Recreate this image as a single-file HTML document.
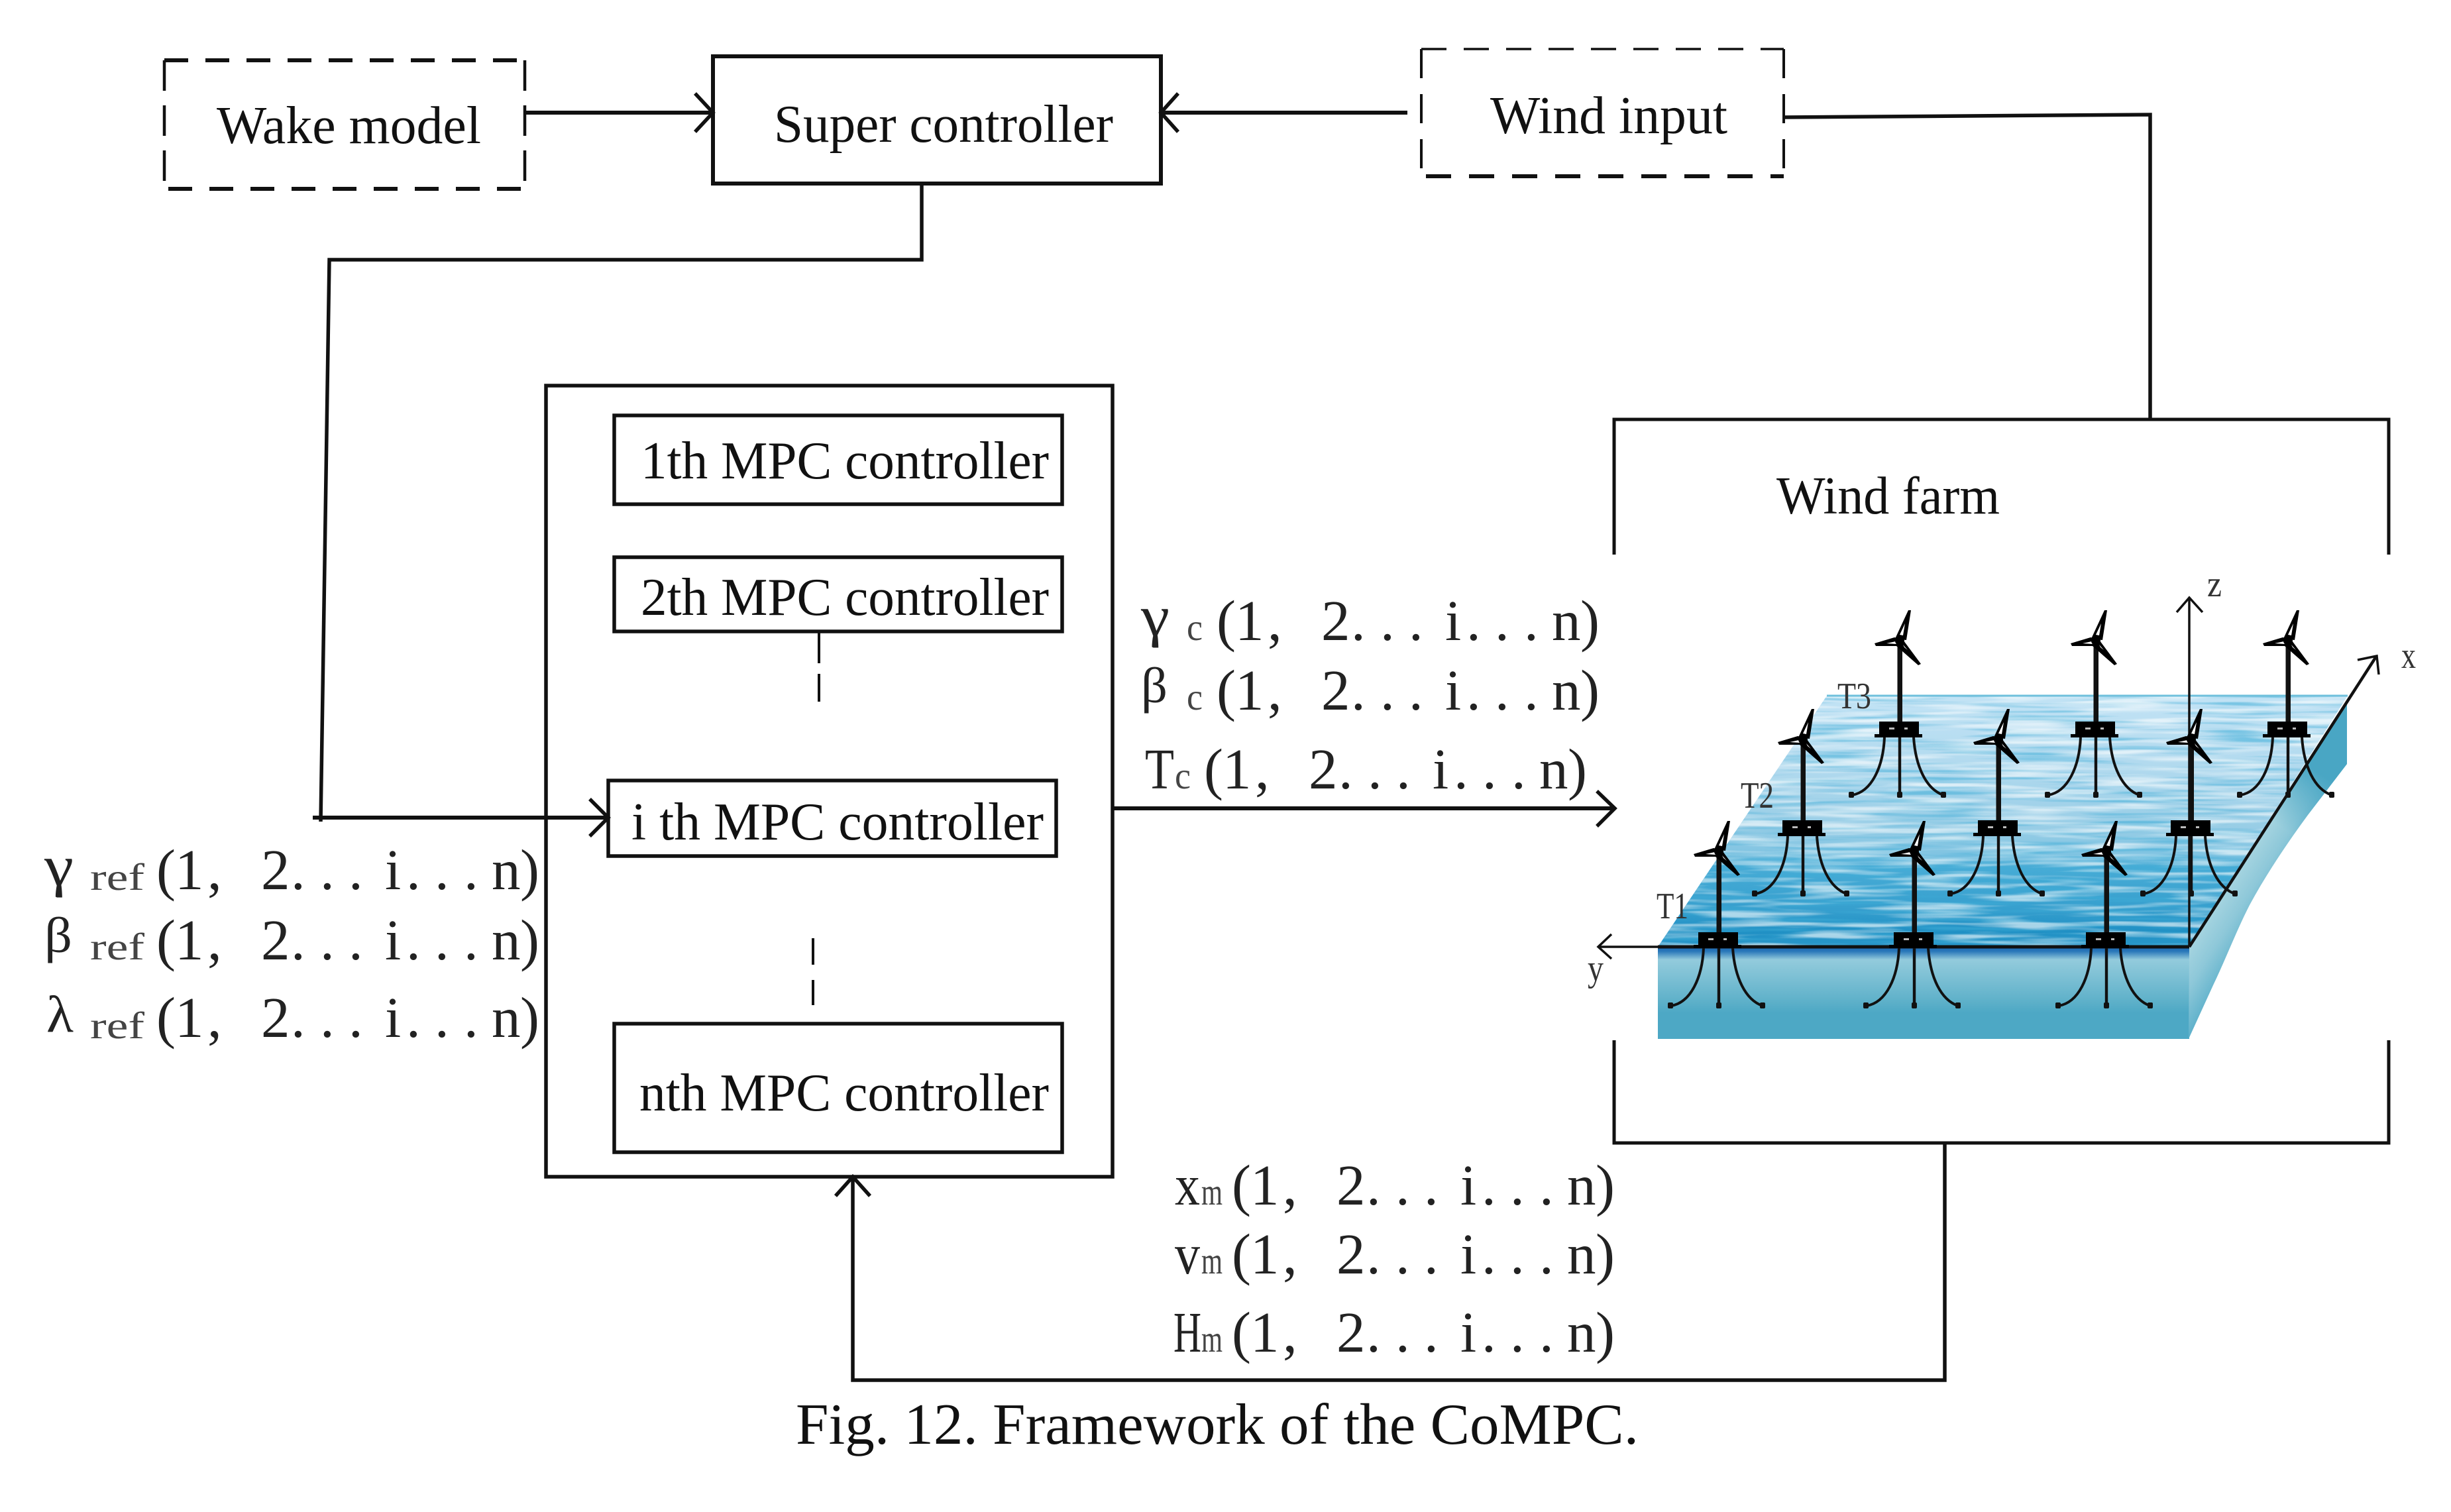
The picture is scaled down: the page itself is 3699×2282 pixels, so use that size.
<!DOCTYPE html>
<html><head><meta charset="utf-8"><title>Framework of the CoMPC</title>
<style>html,body{margin:0;padding:0;background:#fff}svg{display:block}
text{font-family:"Liberation Serif","Noto Serif CJK SC",serif;fill:#111}
.m{font-size:80px}.f{font-size:87px;fill:#222}.s{font-size:56px;fill:#333}.r{font-size:57px;fill:#444}</style></head>
<body>
<svg xmlns="http://www.w3.org/2000/svg" width="3699" height="2282" viewBox="0 0 3699 2282">
<defs>
<linearGradient id="w" x1="0" y1="0" x2="0" y2="1">
<stop offset="0" stop-color="#c2e3f5"/><stop offset=".3" stop-color="#b0d9ee"/><stop offset=".53" stop-color="#97cde6"/><stop offset=".63" stop-color="#80c4e2"/><stop offset=".68" stop-color="#48acd6"/><stop offset=".85" stop-color="#369fce"/><stop offset=".94" stop-color="#2090c4"/><stop offset="1" stop-color="#2a98ca"/>
</linearGradient>
<linearGradient id="fr" x1="0" y1="0" x2="0" y2="1">
<stop offset="0" stop-color="#1a66b0"/><stop offset=".05" stop-color="#2a78ba"/><stop offset=".14" stop-color="#93cbdc"/><stop offset=".6" stop-color="#5db0c9"/><stop offset=".72" stop-color="#4da8c5"/><stop offset="1" stop-color="#4da8c5"/>
</linearGradient>
<linearGradient id="sd" gradientUnits="userSpaceOnUse" x1="3304" y1="1429" x2="3396" y2="1488">
<stop offset="0" stop-color="#a5d4e0"/><stop offset=".3" stop-color="#8ec8d9"/><stop offset=".8" stop-color="#4ea9c6"/><stop offset="1" stop-color="#49a6c4"/>
</linearGradient>
<linearGradient id="sd2" gradientUnits="userSpaceOnUse" x1="3520" y1="1100" x2="3430" y2="1240">
<stop offset="0" stop-color="#49a6c4"/><stop offset=".4" stop-color="#49a6c4"/><stop offset="1" stop-color="#49a6c4" stop-opacity="0"/>
</linearGradient>
<clipPath id="wc"><polygon points="2757,1050 3543,1050 3304,1429 2502,1429"/></clipPath>
<filter id="wv" x="2500" y="1050" width="1050" height="380" filterUnits="userSpaceOnUse">
<feTurbulence type="fractalNoise" baseFrequency="0.007 0.12" numOctaves="2" seed="7"/>
<feColorMatrix type="matrix" values="0 0 0 0 1  0 0 0 0 1  0 0 0 0 1  3.4 0 0 0 -1.5"/>
</filter>
<filter id="wd" x="2500" y="1050" width="1050" height="380" filterUnits="userSpaceOnUse">
<feTurbulence type="fractalNoise" baseFrequency="0.006 0.15" numOctaves="2" seed="23"/>
<feColorMatrix type="matrix" values="0 0 0 0 .05  0 0 0 0 .42  0 0 0 0 .68  3.4 0 0 0 -1.6"/>
</filter>
<g id="t">
<rect x="-3.5" y="0" width="7.5" height="123" fill="#111"/>
<path d="M-7,-3 L13,-46 L17,-46 L10,-1 Z" fill="#000"/><path d="M0,-9 L8,-26 L5,-8 Z" fill="#fff"/>
<path d="M-38,4 L-8,-5 L4,-3 L4,8 L-36,8 Z" fill="#000"/><path d="M-20,4 L-6,1 L-5,5 Z" fill="#fff"/>
<path d="M3,-4 L32,35 L28,37 L-5,8 Z" fill="#000"/><path d="M5,6 L12,14 L7,10 Z" fill="#fff"/>
<circle cx="0" cy="0" r="7" fill="#000"/>
<rect x="-31" y="122" width="60" height="21" fill="#000"/>
<rect x="-38" y="141" width="72" height="5" fill="#000"/>
<rect x="-16" y="131" width="8" height="3" fill="#bbb"/><rect x="7" y="131" width="5" height="3" fill="#bbb"/>
<path d="M-23,146 C-25,190 -42,228 -72,233 M21,146 C24,190 40,224 66,233" fill="none" stroke="#111" stroke-width="4"/>
<rect x="-2.2" y="146" width="4.4" height="87" fill="#111"/>
<rect x="-4" y="228" width="8" height="9" rx="2" fill="#111"/><rect x="-77" y="228" width="8" height="9" rx="2" fill="#111"/><rect x="62" y="228" width="8" height="9" rx="2" fill="#111"/>
</g>
</defs>
<rect width="3699" height="2282" fill="#fff"/>

<!-- Ocean block -->
<polygon points="2757,1050 3543,1050 3304,1429 2502,1429" fill="url(#w)"/>
<g clip-path="url(#wc)"><rect x="2500" y="1050" width="1050" height="380" filter="url(#wd)" opacity=".55"/><rect x="2500" y="1050" width="1050" height="380" filter="url(#wv)" opacity=".6"/></g>
<line x1="2757" y1="1050" x2="3543" y2="1050" stroke="#6fc0dc" stroke-width="3"/>
<rect x="2502" y="1429" width="802" height="139" fill="url(#fr)"/>
<path d="M3304,1429 L3542,1057 L3542,1153 L3483,1230 C3450,1275 3420,1320 3395,1366 C3375,1405 3358,1450 3340,1487 L3303,1568 Z" fill="url(#sd)"/>
<path d="M3304,1429 L3542,1057 L3542,1153 L3483,1230 C3450,1275 3420,1320 3395,1366 C3375,1405 3358,1450 3340,1487 L3303,1568 Z" fill="url(#sd2)"/>

<!-- Axes -->
<g fill="none" stroke="#111">
<path d="M3304,1429 V904" stroke-width="3.5"/><path d="M3285,924 L3304,902 L3324,924" stroke-width="3.5"/>
<path d="M3304,1429 L3586,991" stroke-width="4.5"/><path d="M3558,996 L3587,990 L3590,1018" stroke-width="3.5"/>
<path d="M2412,1429 H2502" stroke-width="3.5"/><path d="M2502,1429 H3304" stroke-width="5"/><path d="M2432,1410 L2412,1429 L2432,1447" stroke-width="3.5"/>
</g>

<!-- Turbines -->
<use href="#t" x="2867" y="967"/><use href="#t" x="3163" y="967"/><use href="#t" x="3453" y="967"/>
<use href="#t" x="2721" y="1116"/><use href="#t" x="3016" y="1116"/><use href="#t" x="3307" y="1116"/>
<use href="#t" x="2594" y="1285"/><use href="#t" x="2889" y="1285"/><use href="#t" x="3179" y="1285"/>

<!-- Boxes -->
<g fill="none" stroke="#111" stroke-width="5.5">
<path d="M248,91 H792 M254,285 H792" stroke-dasharray="36 26" stroke-width="6"/>
<path d="M248,91 V285 M792,91 V285" stroke-dasharray="46 22" stroke-width="4.5"/>
<rect x="1076" y="85" width="676" height="192" stroke-width="6"/>
<path d="M2145,74 H2692" stroke-dasharray="38 26" stroke-width="3.5"/>
<path d="M2152,266 H2692" stroke-dasharray="38 27" stroke-width="6"/>
<path d="M2145,74 V266 M2692,74 V266" stroke-dasharray="44 24" stroke-width="4"/>
<rect x="824" y="582" width="855" height="1194"/>
<rect x="927" y="627" width="676" height="134"/>
<rect x="927" y="841" width="676" height="112"/>
<rect x="918" y="1178" width="676" height="114"/>
<rect x="927" y="1545" width="676" height="194"/>
<path d="M2436,837 V633 H3605 V837 M2436,1570 V1725 H3605 V1570" stroke-width="5"/>
<path d="M1236,953 V1001 M1236,1017 V1059 M1227,1416 V1456 M1227,1479 V1517" stroke-width="4"/>
<!-- connectors -->
<path d="M792,170 H1074" stroke-width="6"/><path d="M1049,141 L1076,170 L1049,199"/>
<path d="M2124,170 H1754" stroke-width="6"/><path d="M1778,141 L1752,170 L1778,199"/>
<path d="M2692,177 L3245,173 V633"/>
<path d="M1391,277 V392 H497 L484,1240"/>
<path d="M472,1234 H916" stroke-width="6"/><path d="M890,1206 L918,1234 L890,1262"/>
<path d="M1679,1220 H2435" stroke-width="6"/><path d="M2410,1194 L2437,1220 L2410,1247"/>
<path d="M2935,1725 V2083 H1287 V1778"/><path d="M1261,1805 L1287,1776 L1313,1805"/>
</g>

<!-- Block labels -->
<text class="m" x="327" y="216" textLength="399" lengthAdjust="spacingAndGlyphs">Wake model</text>
<text class="m" x="1168" y="214" textLength="512" lengthAdjust="spacingAndGlyphs">Super controller</text>
<text class="m" x="2249" y="201" textLength="358" lengthAdjust="spacingAndGlyphs">Wind input</text>
<text class="m" x="2681" y="775" textLength="337" lengthAdjust="spacingAndGlyphs">Wind farm</text>
<text class="m" x="967" y="722" textLength="616" lengthAdjust="spacingAndGlyphs">1th MPC controller</text>
<text class="m" x="967" y="928" textLength="616" lengthAdjust="spacingAndGlyphs">2th MPC controller</text>
<text class="m" x="953" y="1267" textLength="622" lengthAdjust="spacingAndGlyphs">i th MPC controller</text>
<text class="m" x="965" y="1676" textLength="618" lengthAdjust="spacingAndGlyphs">nth MPC controller</text>
<text x="1201" y="2179" font-size="88" textLength="1272" lengthAdjust="spacingAndGlyphs">Fig. 12. Framework of the CoMPC.</text>

<!-- Left labels -->
<text class="f" x="67" y="1336" textLength="44" lengthAdjust="spacingAndGlyphs">γ</text>
<text class="r" x="136" y="1343" textLength="82" lengthAdjust="spacingAndGlyphs">ref</text>
<g transform="translate(236,1342)"><text class="f" x="0 28 77 158 203 247 290 345 377 420 464 506 549">(1,2...i...n)</text></g>
<text class="f" style="font-size:76px" x="67" y="1437" textLength="42" lengthAdjust="spacingAndGlyphs">β</text>
<text class="r" x="136" y="1448" textLength="82" lengthAdjust="spacingAndGlyphs">ref</text>
<g transform="translate(236,1448)"><text class="f" x="0 28 77 158 203 247 290 345 377 420 464 506 549">(1,2...i...n)</text></g>
<text class="f" style="font-size:78px" x="70" y="1557" textLength="41" lengthAdjust="spacingAndGlyphs">λ</text>
<text class="r" x="136" y="1567" textLength="82" lengthAdjust="spacingAndGlyphs">ref</text>
<g transform="translate(236,1565)"><text class="f" x="0 28 77 158 203 247 290 345 377 420 464 506 549">(1,2...i...n)</text></g>

<!-- Right labels -->
<text class="f" x="1722" y="959" textLength="43" lengthAdjust="spacingAndGlyphs">γ</text>
<text class="r" x="1791" y="966" textLength="24" lengthAdjust="spacingAndGlyphs">c</text>
<g transform="translate(1836,966)"><text class="f" x="0 28 77 158 203 247 290 345 377 420 464 506 549">(1,2...i...n)</text></g>
<text class="f" style="font-size:76px" x="1722" y="1060" textLength="40" lengthAdjust="spacingAndGlyphs">β</text>
<text class="r" x="1791" y="1071" textLength="24" lengthAdjust="spacingAndGlyphs">c</text>
<g transform="translate(1836,1071)"><text class="f" x="0 28 77 158 203 247 290 345 377 420 464 506 549">(1,2...i...n)</text></g>
<text class="f" x="1728" y="1190" textLength="44" lengthAdjust="spacingAndGlyphs">T</text>
<text class="r" x="1773" y="1190" textLength="24" lengthAdjust="spacingAndGlyphs">c</text>
<g transform="translate(1817,1190)"><text class="f" x="0 28 77 158 203 247 290 345 377 420 464 506 549">(1,2...i...n)</text></g>

<!-- Bottom labels -->
<text class="f" x="1773" y="1818" textLength="38" lengthAdjust="spacingAndGlyphs">x</text>
<text class="r" x="1813" y="1818" textLength="32" lengthAdjust="spacingAndGlyphs">m</text>
<g transform="translate(1859,1818)"><text class="f" x="0 28 77 158 203 247 290 345 377 420 464 506 549">(1,2...i...n)</text></g>
<text class="f" x="1773" y="1922" textLength="38" lengthAdjust="spacingAndGlyphs">v</text>
<text class="r" x="1813" y="1922" textLength="32" lengthAdjust="spacingAndGlyphs">m</text>
<g transform="translate(1859,1922)"><text class="f" x="0 28 77 158 203 247 290 345 377 420 464 506 549">(1,2...i...n)</text></g>
<text class="f" x="1771" y="2040" textLength="42" lengthAdjust="spacingAndGlyphs">H</text>
<text class="r" x="1813" y="2040" textLength="32" lengthAdjust="spacingAndGlyphs">m</text>
<g transform="translate(1859,2040)"><text class="f" x="0 28 77 158 203 247 290 345 377 420 464 506 549">(1,2...i...n)</text></g>

<!-- Small labels -->
<text class="s" x="2773" y="1069" textLength="51" lengthAdjust="spacingAndGlyphs">T3</text>
<text class="s" x="2627" y="1219" textLength="50" lengthAdjust="spacingAndGlyphs">T2</text>
<text class="s" x="2500" y="1386" textLength="48" lengthAdjust="spacingAndGlyphs">T1</text>
<text class="s" x="3331" y="900" textLength="22" lengthAdjust="spacingAndGlyphs">z</text>
<text class="s" x="3624" y="1008" textLength="22" lengthAdjust="spacingAndGlyphs">x</text>
<text class="s" x="2396" y="1480" textLength="24" lengthAdjust="spacingAndGlyphs">y</text>
</svg>
</body></html>
